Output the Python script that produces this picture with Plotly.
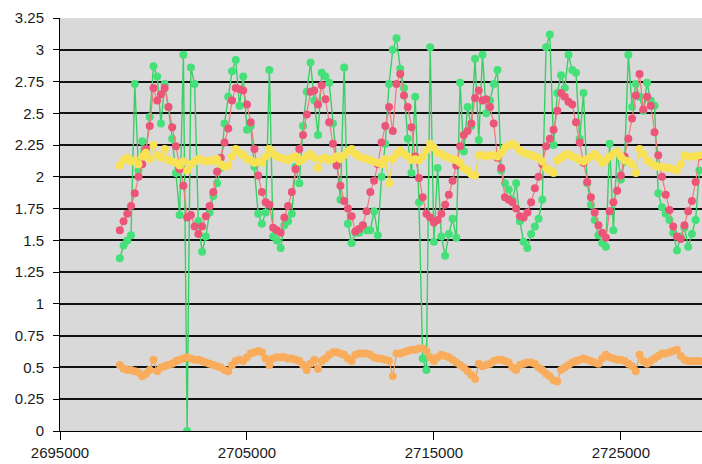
import plotly.graph_objects as go

x_pos = [
    2698200, 2698400, 2698600, 2698800, 2699000, 2699200, 2699400, 2699600, 2699800, 2700000,
    2700200, 2700400, 2700600, 2700800, 2701000, 2701200, 2701400, 2701600, 2701800, 2702000,
    2702200, 2702400, 2702600, 2702800, 2703000, 2703200, 2703400, 2703600, 2703800, 2704000,
    2704200, 2704400, 2704600, 2704800, 2705000, 2705200, 2705400, 2705600, 2705800, 2706000,
    2706200, 2706400, 2706600, 2706800, 2707000, 2707200, 2707400, 2707600, 2707800, 2708000,
    2708200, 2708400, 2708600, 2708800, 2709000, 2709200, 2709400, 2709600, 2709800, 2710000,
    2710200, 2710400, 2710600, 2710800, 2711000, 2711200, 2711400, 2711600, 2711800, 2712000,
    2712200, 2712400, 2712600, 2712800, 2713000, 2713200, 2713400, 2713600, 2713800, 2714000,
    2714200, 2714400, 2714600, 2714800, 2715000, 2715200, 2715400, 2715600, 2715800, 2716000,
    2716200, 2716400, 2716600, 2716800, 2717000, 2717200, 2717400, 2717600, 2717800, 2718000,
    2718200, 2718400, 2718600, 2718800, 2719000, 2719200, 2719400, 2719600, 2719800, 2720000,
    2720200, 2720400, 2720600, 2720800, 2721000, 2721200, 2721400, 2721600, 2721800, 2722000,
    2722200, 2722400, 2722600, 2722800, 2723000, 2723200, 2723400, 2723600, 2723800, 2724000,
    2724200, 2724400, 2724600, 2724800, 2725000, 2725200, 2725400, 2725600, 2725800, 2726000,
    2726200, 2726400, 2726600, 2726800, 2727000, 2727200, 2727400, 2727600, 2727800, 2728000,
    2728200, 2728400, 2728600, 2728800, 2729000, 2729200,
]

green_vals = [
    1.36, 1.46, 1.50, 1.54, 2.73, 2.05, 2.28, 2.20, 2.47, 2.87,
    2.79, 2.42, 2.73, 2.55, 2.30, 2.03, 1.70, 2.96, 0.00, 2.86,
    2.73, 1.65, 1.41, 1.53, 1.72, 1.85, 1.95, 2.07, 2.42, 2.63,
    2.83, 2.92, 2.56, 2.79, 2.37, 2.40, 2.08, 1.71, 1.63, 1.72,
    2.84, 1.53, 1.50, 1.44, 1.62, 1.65, 1.71, 2.08, 1.95, 2.40,
    2.67, 2.90, 2.60, 2.33, 2.82, 2.79, 2.74, 2.42, 2.10, 1.82,
    2.86, 1.63, 1.48, 1.56, 1.56, 1.62, 1.58, 1.58, 1.73, 1.54,
    2.00, 2.26, 2.73, 3.00, 3.09, 2.85, 2.70, 2.30, 2.03, 2.63,
    1.80, 0.57, 0.48, 3.02, 1.49, 2.07, 1.53, 1.38, 1.55, 1.67,
    1.52, 2.74, 2.20, 2.55, 2.40, 2.93, 2.29, 2.96, 2.50, 2.60,
    2.73, 2.84, 2.05, 1.95, 1.90, 1.82, 1.95, 1.65, 1.49, 1.44,
    1.55, 1.61, 1.67, 1.82, 3.02, 3.12, 2.25, 2.66, 2.80, 2.70,
    2.96, 2.84, 2.82, 2.30, 2.66, 1.95, 1.78, 1.66, 1.54, 1.48,
    1.45, 2.26, 1.58, 2.20, 1.98, 2.12, 2.96, 2.55, 2.73, 2.63,
    2.52, 2.74, 2.60, 2.56, 1.87, 1.76, 1.71, 1.66, 1.56, 1.42,
    1.53, 1.60, 1.45, 1.55, 1.66, 2.05,
]

red_vals = [
    1.58, 1.65, 1.71, 1.77, 1.87, 2.00, 2.10, 2.22, 2.40, 2.70,
    2.60, 2.65, 2.70, 2.55, 2.39, 2.24, 2.06, 1.93, 1.68, 1.70,
    1.61, 1.55, 1.61, 1.69, 1.77, 1.88, 2.04, 2.15, 2.27, 2.38,
    2.60, 2.70, 2.69, 2.68, 2.57, 2.43, 2.22, 2.01, 1.88, 1.80,
    1.78, 1.60, 1.58, 1.56, 1.68, 1.77, 1.88, 2.06, 2.22, 2.33,
    2.49, 2.67, 2.68, 2.57, 2.72, 2.61, 2.43, 2.26, 2.09, 1.93,
    1.81, 1.75, 1.69, 1.57, 1.59, 1.62, 1.73, 1.88, 1.97, 2.10,
    2.27, 2.40, 2.55, 2.36, 2.73, 2.81, 2.64, 2.55, 2.39, 2.16,
    1.99, 1.84, 1.71, 1.68, 1.64, 1.66, 1.71, 1.78, 1.86, 1.97,
    2.09, 2.24, 2.33, 2.36, 2.42, 2.62, 2.68, 2.60, 2.61, 2.55,
    2.42, 2.15, 2.07, 1.84, 1.82, 1.80, 1.75, 1.69, 1.68, 1.72,
    1.80, 1.91, 2.00, 2.10, 2.24, 2.30, 2.37, 2.52, 2.66, 2.63,
    2.59, 2.57, 2.43, 2.27, 2.11, 1.96, 1.84, 1.72, 1.62, 1.56,
    1.52, 1.73, 1.80, 1.89, 2.01, 2.16, 2.30, 2.46, 2.64, 2.81,
    2.53, 2.63, 2.56, 2.35, 2.17, 2.00, 1.86, 1.74, 1.61, 1.53,
    1.51, 1.62, 1.73, 1.81, 1.96, 2.16,
]

yellow_vals = [
    2.09, 2.13, 2.15, 2.12, 2.13, 2.10, 2.16, 2.19, 2.14, 2.25,
    2.17, 2.15, 2.22, 2.13, 2.12, 2.11, 2.09, 2.12, 2.05, 2.10,
    2.12, 2.14, 2.13, 2.12, 2.13, 2.12, 2.14, 2.10, 2.08, 2.09,
    2.16, 2.22, 2.19, 2.17, 2.14, 2.13, 2.11, 2.12, 2.11, 2.16,
    2.22, 2.18, 2.16, 2.15, 2.14, 2.13, 2.15, 2.16, 2.12, 2.14,
    2.16, 2.18, 2.15, 2.07, 2.14, 2.15, 2.13, 2.14, 2.16, 2.14,
    2.17, 2.20, 2.22, 2.18, 2.16, 2.15, 2.14, 2.13, 2.12, 2.11,
    2.10, 2.14, 1.95, 2.14, 2.18, 2.21, 2.18, 2.16, 2.13, 2.14,
    2.13, 2.16, 2.21, 2.26, 2.23, 2.19, 2.18, 2.16, 2.15, 2.14,
    2.13, 2.11, 2.07, 2.05, 2.02, 2.01, 2.17, 2.17, 2.16, 2.17,
    2.17, 2.16, 2.19, 2.23, 2.25, 2.26, 2.24, 2.21, 2.19, 2.18,
    2.17, 2.16, 2.15, 2.12, 2.07, 2.05, 2.03, 2.13, 2.15, 2.17,
    2.18, 2.16, 2.15, 2.13, 2.12, 2.14, 2.16, 2.18, 2.15, 2.11,
    2.13, 2.16, 2.18, 2.20, 2.16, 2.13, 2.12, 2.10, 2.03, 2.22,
    2.18, 2.13, 2.11, 2.09, 2.08, 2.08, 2.07, 2.07, 2.06, 2.05,
    2.10, 2.17, 2.16, 2.16, 2.16, 2.17,
]

orange_vals = [
    0.52, 0.49, 0.48, 0.48, 0.47, 0.46, 0.43, 0.45, 0.48, 0.56,
    0.47, 0.50, 0.51, 0.52, 0.53, 0.55, 0.56, 0.57, 0.58, 0.57,
    0.56, 0.56, 0.55, 0.54, 0.53, 0.52, 0.51, 0.50, 0.48, 0.47,
    0.52, 0.55, 0.56, 0.55, 0.58, 0.61, 0.62, 0.63, 0.62, 0.57,
    0.52, 0.57, 0.58, 0.58, 0.58, 0.57, 0.57, 0.56, 0.55, 0.52,
    0.48, 0.53, 0.56, 0.49, 0.55, 0.57, 0.60, 0.62, 0.62, 0.61,
    0.60, 0.57, 0.55, 0.60, 0.61, 0.61, 0.61, 0.60, 0.58, 0.57,
    0.57, 0.56, 0.55, 0.43, 0.61, 0.61, 0.62, 0.63, 0.64, 0.64,
    0.65, 0.65, 0.63, 0.58, 0.55, 0.58, 0.60, 0.59, 0.58, 0.56,
    0.54, 0.52, 0.50, 0.47, 0.44, 0.41, 0.53, 0.51, 0.52, 0.53,
    0.55, 0.56, 0.56, 0.55, 0.54, 0.50, 0.48, 0.52, 0.53, 0.54,
    0.54, 0.53, 0.50, 0.48, 0.45, 0.43, 0.40, 0.39, 0.48, 0.50,
    0.52, 0.54, 0.55, 0.56, 0.57, 0.56, 0.55, 0.54, 0.53, 0.57,
    0.60, 0.58, 0.57, 0.56, 0.56, 0.55, 0.53, 0.51, 0.47, 0.60,
    0.55, 0.53, 0.55, 0.57, 0.59, 0.61, 0.61, 0.62, 0.63, 0.64,
    0.59, 0.56, 0.55, 0.55, 0.55, 0.55,
]

x_range = [2695000, 2729340]
y_range = [0, 3.25]

fig = go.Figure()

fig.add_trace(go.Scatter(
    x=x_pos, y=green_vals, mode="lines+markers", name="green",
    line=dict(color="#3ccf66", width=1.4),
    marker=dict(color="#46e07a", size=8, symbol="circle"),
))
fig.add_trace(go.Scatter(
    x=x_pos, y=red_vals, mode="lines+markers", name="red",
    line=dict(color="#f27a7a", width=1.2),
    marker=dict(color="#ec5578", size=8, symbol="circle"),
))
fig.add_trace(go.Scatter(
    x=x_pos, y=yellow_vals, mode="lines+markers", name="yellow",
    line=dict(color="#f3dc45", width=1.2),
    marker=dict(color="#f8e254", size=8, symbol="circle"),
))
fig.add_trace(go.Scatter(
    x=x_pos, y=orange_vals, mode="lines+markers", name="orange",
    line=dict(color="#f5a04a", width=1.2),
    marker=dict(color="#f9ad5c", size=8, symbol="circle"),
))

axis_font = dict(family="Liberation Sans, Arial, sans-serif", size=15, color="#1a1a1a")

fig.update_layout(
    width=702, height=464,
    margin=dict(l=60, r=0, t=18, b=33, pad=0),
    paper_bgcolor="white",
    plot_bgcolor="#d9d9d9",
    showlegend=False,
    xaxis=dict(
        range=x_range, tick0=2695000, dtick=10000, tickformat="d",
        showgrid=False, zeroline=False,
        showline=True, linecolor="black", linewidth=1,
        ticks="outside", ticklen=8, tickcolor="black", tickwidth=1,
        tickfont=axis_font,
    ),
    yaxis=dict(
        range=y_range, tick0=0, dtick=0.25,
        showgrid=True, gridcolor="#111111", gridwidth=1.8,
        zeroline=False,
        showline=True, linecolor="black", linewidth=1,
        ticks="outside", ticklen=6, tickcolor="black", tickwidth=1,
        tickfont=axis_font, ticklabelstandoff=6,
    ),
)

fig.write_html("out.html")
